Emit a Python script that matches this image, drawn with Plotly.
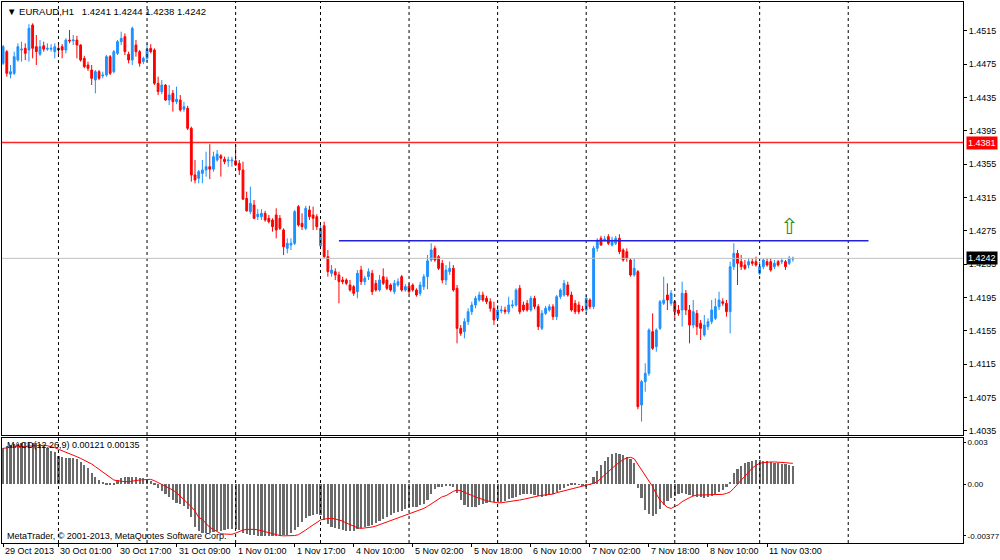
import plotly.graph_objects as go

# EURAUD H1, bar 0 = 29 Oct 2013, last bar = 11 Nov 2013
opens = [
    1.4476, 1.4490, 1.4463, 1.4464, 1.4480, 1.4492, 1.4494, 1.4492, 1.4522, 1.4496,
    1.4487, 1.4497, 1.4493, 1.4493, 1.4490, 1.4494, 1.4496, 1.4492, 1.4504, 1.4503,
    1.4504, 1.4498, 1.4482, 1.4474, 1.4468, 1.4456, 1.4466, 1.4461, 1.4462, 1.4484,
    1.4466, 1.4488, 1.4502, 1.4508, 1.4487, 1.4480, 1.4498, 1.4490, 1.4478, 1.4482,
    1.4494, 1.4492, 1.4452, 1.4442, 1.4450, 1.4432, 1.4440, 1.4430, 1.4432, 1.4421,
    1.4422, 1.4398, 1.4342, 1.4338, 1.4344, 1.4348, 1.4352, 1.4349, 1.4360, 1.4365,
    1.4361, 1.4359, 1.4359, 1.4359, 1.4356, 1.4348, 1.4314, 1.4298, 1.4306, 1.4292,
    1.4292, 1.4296, 1.4290, 1.4288, 1.4294, 1.4290, 1.4276, 1.4254, 1.4258, 1.4260,
    1.4304, 1.4284, 1.4278, 1.4300, 1.4294, 1.4292, 1.4257, 1.4281, 1.4244, 1.4224,
    1.4226, 1.4222, 1.4216, 1.4216, 1.4210, 1.4208, 1.4202, 1.4228, 1.4214, 1.4220,
    1.4224, 1.4212, 1.4204, 1.4220, 1.4216, 1.4210, 1.4202, 1.4210, 1.4220, 1.4204,
    1.4209, 1.4210, 1.4204, 1.4200, 1.4208, 1.4220, 1.4240, 1.4254, 1.4244, 1.4236,
    1.4216, 1.4226, 1.4230, 1.4206, 1.4158, 1.4154, 1.4166, 1.4178, 1.4186, 1.4192,
    1.4198, 1.4194, 1.4190, 1.4182, 1.4170, 1.4179, 1.4180, 1.4178, 1.4185, 1.4186,
    1.4206, 1.4186, 1.4188, 1.4180, 1.4194, 1.4184, 1.4158, 1.4176, 1.4180, 1.4184,
    1.4172, 1.4196, 1.4198, 1.4210, 1.4198, 1.4188, 1.4186, 1.4181, 1.4180, 1.4192,
    1.4184, 1.4254, 1.4266, 1.4264, 1.4268, 1.4258, 1.4260, 1.4266, 1.4252, 1.4250,
    1.4240, 1.4222, 1.4226, 1.4066, 1.4094, 1.4104, 1.4154, 1.4136, 1.4158, 1.4188,
    1.4198, 1.4188, 1.4190, 1.4180, 1.4180, 1.4200, 1.4180, 1.4162, 1.4176, 1.4164,
    1.4150, 1.4160, 1.4166, 1.4170, 1.4184, 1.4190, 1.4188, 1.4178, 1.4232, 1.4248,
    1.4238, 1.4234, 1.4234, 1.4238, 1.4238, 1.4224, 1.4232, 1.4238, 1.4238, 1.4232,
    1.4238, 1.4238, 1.4238, 1.4236, 1.4241,
]
highs = [
    1.4498, 1.4492, 1.4474, 1.4490, 1.4500, 1.4502, 1.4500, 1.4523, 1.4524, 1.4510,
    1.4504, 1.4502, 1.4500, 1.4499, 1.4500, 1.4498, 1.4499, 1.4506, 1.4516, 1.4510,
    1.4509, 1.4499, 1.4485, 1.4478, 1.4474, 1.4468, 1.4468, 1.4466, 1.4486, 1.4486,
    1.4492, 1.4504, 1.4514, 1.4512, 1.4490, 1.4520, 1.4504, 1.4492, 1.4484, 1.4500,
    1.4499, 1.4494, 1.4460, 1.4456, 1.4451, 1.4450, 1.4444, 1.4448, 1.4438, 1.4430,
    1.4425, 1.4400, 1.4360, 1.4348, 1.4360, 1.4370, 1.4379, 1.4370, 1.4372, 1.4367,
    1.4364, 1.4364, 1.4364, 1.4379, 1.4360, 1.4358, 1.4322, 1.4328, 1.4312, 1.4301,
    1.4301, 1.4299, 1.4294, 1.4290, 1.4302, 1.4294, 1.4278, 1.4266, 1.4266, 1.4300,
    1.4306, 1.4296, 1.4305, 1.4305, 1.4304, 1.4295, 1.4282, 1.4286, 1.4252, 1.4234,
    1.4230, 1.4226, 1.4220, 1.4218, 1.4216, 1.4210, 1.4228, 1.4233, 1.4221, 1.4230,
    1.4228, 1.4216, 1.4222, 1.4230, 1.4220, 1.4212, 1.4216, 1.4218, 1.4222, 1.4211,
    1.4212, 1.4212, 1.4206, 1.4214, 1.4223, 1.4246, 1.4260, 1.4257, 1.4246, 1.4240,
    1.4234, 1.4238, 1.4234, 1.4210, 1.4162, 1.4170, 1.4182, 1.4190, 1.4197, 1.4202,
    1.4202, 1.4197, 1.4194, 1.4190, 1.4186, 1.4185, 1.4184, 1.4196, 1.4192, 1.4206,
    1.4210, 1.4190, 1.4192, 1.4197, 1.4197, 1.4187, 1.4180, 1.4185, 1.4187, 1.4187,
    1.4198, 1.4206, 1.4216, 1.4214, 1.4202, 1.4192, 1.4190, 1.4185, 1.4198, 1.4194,
    1.4257, 1.4266, 1.4269, 1.4269, 1.4271, 1.4268, 1.4269, 1.4271, 1.4254, 1.4254,
    1.4242, 1.4242, 1.4228, 1.4096, 1.4116, 1.4158, 1.4176, 1.4158, 1.4192, 1.4220,
    1.4212, 1.4204, 1.4192, 1.4186, 1.4214, 1.4204, 1.4186, 1.4192, 1.4180, 1.4168,
    1.4174, 1.4170, 1.4192, 1.4194, 1.4202, 1.4194, 1.4192, 1.4238, 1.4260, 1.4252,
    1.4246, 1.4240, 1.4242, 1.4242, 1.4244, 1.4238, 1.4242, 1.4242, 1.4242, 1.4240,
    1.4240, 1.4242, 1.4240, 1.4245, 1.4244,
]
lows = [
    1.4474, 1.4460, 1.4458, 1.4462, 1.4478, 1.4478, 1.4480, 1.4478, 1.4482, 1.4474,
    1.4485, 1.4490, 1.4491, 1.4490, 1.4482, 1.4484, 1.4482, 1.4488, 1.4500, 1.4498,
    1.4482, 1.4478, 1.4470, 1.4467, 1.4450, 1.4440, 1.4456, 1.4458, 1.4460, 1.4462,
    1.4464, 1.4486, 1.4498, 1.4486, 1.4476, 1.4474, 1.4484, 1.4472, 1.4475, 1.4478,
    1.4488, 1.4450, 1.4438, 1.4439, 1.4431, 1.4426, 1.4418, 1.4427, 1.4418, 1.4418,
    1.4396, 1.4334, 1.4332, 1.4332, 1.4332, 1.4340, 1.4337, 1.4346, 1.4358, 1.4340,
    1.4355, 1.4352, 1.4352, 1.4353, 1.4342, 1.4312, 1.4298, 1.4295, 1.4289, 1.4288,
    1.4288, 1.4286, 1.4284, 1.4274, 1.4266, 1.4276, 1.4246, 1.4248, 1.4252, 1.4258,
    1.4280, 1.4276, 1.4276, 1.4288, 1.4276, 1.4276, 1.4253, 1.4242, 1.4220, 1.4220,
    1.4216, 1.4188, 1.4211, 1.4210, 1.4202, 1.4197, 1.4194, 1.4210, 1.4210, 1.4216,
    1.4198, 1.4202, 1.4202, 1.4210, 1.4204, 1.4202, 1.4199, 1.4208, 1.4202, 1.4202,
    1.4199, 1.4202, 1.4196, 1.4197, 1.4204, 1.4205, 1.4238, 1.4238, 1.4228, 1.4212,
    1.4210, 1.4222, 1.4202, 1.4140, 1.4149, 1.4146, 1.4162, 1.4174, 1.4182, 1.4190,
    1.4190, 1.4187, 1.4178, 1.4162, 1.4168, 1.4176, 1.4175, 1.4175, 1.4182, 1.4184,
    1.4175, 1.4178, 1.4178, 1.4178, 1.4181, 1.4156, 1.4156, 1.4174, 1.4178, 1.4168,
    1.4168, 1.4193, 1.4196, 1.4196, 1.4178, 1.4175, 1.4175, 1.4178, 1.4176, 1.4181,
    1.4181, 1.4250, 1.4257, 1.4262, 1.4258, 1.4256, 1.4258, 1.4247, 1.4238, 1.4238,
    1.4220, 1.4220, 1.4061, 1.4046, 1.4082, 1.4101, 1.4132, 1.4130, 1.4156, 1.4186,
    1.4180, 1.4185, 1.4170, 1.4173, 1.4160, 1.4174, 1.4140, 1.4158, 1.4150, 1.4144,
    1.4148, 1.4156, 1.4163, 1.4168, 1.4180, 1.4185, 1.4172, 1.4152, 1.4228, 1.4210,
    1.4228, 1.4228, 1.4230, 1.4233, 1.4232, 1.4222, 1.4229, 1.4232, 1.4226, 1.4229,
    1.4232, 1.4235, 1.4228, 1.4234, 1.4238,
]
closes = [
    1.4496, 1.4464, 1.4466, 1.4484, 1.4496, 1.4493, 1.4488, 1.4518, 1.4494, 1.4490,
    1.4496, 1.4493, 1.4494, 1.4494, 1.4496, 1.4492, 1.4492, 1.4504, 1.4503, 1.4504,
    1.4498, 1.4480, 1.4472, 1.4470, 1.4458, 1.4466, 1.4458, 1.4462, 1.4484, 1.4464,
    1.4490, 1.4502, 1.4506, 1.4490, 1.4480, 1.4518, 1.4490, 1.4476, 1.4482, 1.4493,
    1.4490, 1.4452, 1.4442, 1.4450, 1.4432, 1.4438, 1.4430, 1.4433, 1.4420, 1.4424,
    1.4398, 1.4342, 1.4336, 1.4346, 1.4348, 1.4352, 1.4349, 1.4364, 1.4367, 1.4362,
    1.4358, 1.4360, 1.4360, 1.4354, 1.4348, 1.4313, 1.4299, 1.4308, 1.4290, 1.4295,
    1.4296, 1.4288, 1.4286, 1.4280, 1.4276, 1.4278, 1.4256, 1.4260, 1.4260, 1.4298,
    1.4282, 1.4280, 1.4302, 1.4292, 1.4290, 1.4280, 1.4278, 1.4244, 1.4226, 1.4228,
    1.4222, 1.4214, 1.4214, 1.4212, 1.4204, 1.4200, 1.4224, 1.4214, 1.4218, 1.4226,
    1.4202, 1.4204, 1.4216, 1.4212, 1.4206, 1.4204, 1.4212, 1.4214, 1.4204, 1.4208,
    1.4202, 1.4204, 1.4198, 1.4210, 1.4220, 1.4239, 1.4252, 1.4240, 1.4230, 1.4216,
    1.4228, 1.4230, 1.4204, 1.4158, 1.4152, 1.4166, 1.4178, 1.4186, 1.4194, 1.4198,
    1.4192, 1.4190, 1.4182, 1.4168, 1.4180, 1.4180, 1.4178, 1.4186, 1.4186, 1.4204,
    1.4178, 1.4180, 1.4180, 1.4194, 1.4184, 1.4160, 1.4176, 1.4182, 1.4184, 1.4172,
    1.4196, 1.4204, 1.4212, 1.4198, 1.4180, 1.4178, 1.4178, 1.4180, 1.4194, 1.4184,
    1.4254, 1.4264, 1.4258, 1.4265, 1.4260, 1.4264, 1.4266, 1.4250, 1.4240, 1.4242,
    1.4222, 1.4230, 1.4064, 1.4094, 1.4104, 1.4156, 1.4134, 1.4156, 1.4190, 1.4192,
    1.4192, 1.4200, 1.4178, 1.4176, 1.4200, 1.4180, 1.4162, 1.4178, 1.4160, 1.4158,
    1.4162, 1.4166, 1.4180, 1.4184, 1.4192, 1.4188, 1.4178, 1.4232, 1.4248, 1.4236,
    1.4232, 1.4230, 1.4238, 1.4236, 1.4234, 1.4232, 1.4240, 1.4234, 1.4228, 1.4236,
    1.4234, 1.4239, 1.4232, 1.4242, 1.4242,
]

# MACD(12,26,9): main line (histogram) and signal line
macd_main = [
    0.00262, 0.00275, 0.00283, 0.00288, 0.00292, 0.00295, 0.00297, 0.00300, 0.00299, 0.00296,
    0.00290, 0.00276, 0.00262, 0.00242, 0.00232, 0.00203, 0.00194, 0.00186, 0.00186, 0.00186,
    0.00179, 0.00162, 0.00138, 0.00114, 0.00082, 0.00048, 0.00029, 0.00017, 0.00010, 0.00005,
    0.00010, 0.00029, 0.00041, 0.00048, 0.00048, 0.00053, 0.00048, 0.00046, 0.00041, 0.00034,
    0.00022, 0.00005, -0.00031, -0.00051, -0.00073, -0.00092, -0.00116, -0.00136, -0.00145, -0.00160,
    -0.00184, -0.00242, -0.00310, -0.00339, -0.00353, -0.00358, -0.00353, -0.00348, -0.00344, -0.00339,
    -0.00334, -0.00329, -0.00324, -0.00324, -0.00334, -0.00353, -0.00363, -0.00368, -0.00372, -0.00376,
    -0.00377, -0.00377, -0.00376, -0.00376, -0.00375, -0.00374, -0.00372, -0.00370, -0.00358, -0.00334,
    -0.00310, -0.00273, -0.00249, -0.00232, -0.00225, -0.00218, -0.00225, -0.00261, -0.00290, -0.00310,
    -0.00322, -0.00329, -0.00334, -0.00339, -0.00341, -0.00339, -0.00329, -0.00322, -0.00315, -0.00305,
    -0.00295, -0.00281, -0.00266, -0.00252, -0.00237, -0.00223, -0.00213, -0.00203, -0.00194, -0.00184,
    -0.00177, -0.00169, -0.00165, -0.00155, -0.00145, -0.00116, -0.00073, -0.00039, -0.00024, -0.00019,
    -0.00015, -0.00015, -0.00024, -0.00068, -0.00116, -0.00152, -0.00165, -0.00169, -0.00165, -0.00155,
    -0.00145, -0.00136, -0.00131, -0.00128, -0.00131, -0.00128, -0.00121, -0.00111, -0.00104, -0.00092,
    -0.00082, -0.00075, -0.00073, -0.00073, -0.00077, -0.00087, -0.00092, -0.00087, -0.00082, -0.00073,
    -0.00058, -0.00044, -0.00029, -0.00010, 0.00010, 0.00005, -0.00005, -0.00010, -0.00019, -0.00007,
    0.00048, 0.00097, 0.00138, 0.00169, 0.00198, 0.00215, 0.00223, 0.00218, 0.00208, 0.00194,
    0.00179, 0.00150, -0.00031, -0.00104, -0.00189, -0.00218, -0.00232, -0.00218, -0.00184, -0.00152,
    -0.00121, -0.00104, -0.00087, -0.00073, -0.00068, -0.00073, -0.00080, -0.00085, -0.00092, -0.00097,
    -0.00102, -0.00097, -0.00087, -0.00073, -0.00058, -0.00044, -0.00024, 0.00017, 0.00077, 0.00106,
    0.00131, 0.00150, 0.00160, 0.00167, 0.00172, 0.00174, 0.00169, 0.00165, 0.00160, 0.00155,
    0.00150, 0.00148, 0.00145, 0.00140, 0.00128,
]
macd_signal = [
    0.00259, 0.00264, 0.00266, 0.00269, 0.00271, 0.00273, 0.00273, 0.00276, 0.00276, 0.00278,
    0.00283, 0.00281, 0.00278, 0.00273, 0.00264, 0.00252, 0.00242, 0.00232, 0.00223, 0.00211,
    0.00198, 0.00186, 0.00174, 0.00160, 0.00145, 0.00126, 0.00106, 0.00087, 0.00068, 0.00051,
    0.00029, 0.00024, 0.00019, 0.00017, 0.00017, 0.00022, 0.00024, 0.00029, 0.00031, 0.00034,
    0.00034, 0.00024, 0.00010, 0.00000, -0.00015, -0.00029, -0.00044, -0.00063, -0.00087, -0.00111,
    -0.00136, -0.00165, -0.00196, -0.00242, -0.00257, -0.00286, -0.00315, -0.00329, -0.00346, -0.00361,
    -0.00363, -0.00365, -0.00365, -0.00356, -0.00344, -0.00334, -0.00329, -0.00327, -0.00329, -0.00332,
    -0.00339, -0.00348, -0.00358, -0.00365, -0.00370, -0.00374, -0.00376, -0.00377, -0.00377, -0.00374,
    -0.00368, -0.00353, -0.00334, -0.00315, -0.00295, -0.00276, -0.00261, -0.00254, -0.00249, -0.00249,
    -0.00254, -0.00259, -0.00269, -0.00283, -0.00295, -0.00307, -0.00317, -0.00322, -0.00320, -0.00317,
    -0.00312, -0.00305, -0.00295, -0.00286, -0.00276, -0.00266, -0.00257, -0.00247, -0.00237, -0.00228,
    -0.00218, -0.00206, -0.00196, -0.00186, -0.00177, -0.00162, -0.00145, -0.00128, -0.00111, -0.00092,
    -0.00085, -0.00068, -0.00053, -0.00044, -0.00048, -0.00061, -0.00070, -0.00082, -0.00094, -0.00104,
    -0.00111, -0.00121, -0.00128, -0.00133, -0.00136, -0.00136, -0.00133, -0.00128, -0.00123, -0.00119,
    -0.00116, -0.00111, -0.00104, -0.00097, -0.00092, -0.00087, -0.00082, -0.00080, -0.00075, -0.00073,
    -0.00063, -0.00056, -0.00048, -0.00044, -0.00036, -0.00029, -0.00022, -0.00015, -0.00010, -0.00002,
    0.00005, 0.00017, 0.00041, 0.00065, 0.00090, 0.00119, 0.00138, 0.00157, 0.00177, 0.00189,
    0.00194, 0.00184, 0.00143, 0.00106, 0.00065, 0.00024, -0.00019, -0.00073, -0.00116, -0.00145,
    -0.00169, -0.00177, -0.00165, -0.00150, -0.00128, -0.00111, -0.00099, -0.00087, -0.00080, -0.00080,
    -0.00080, -0.00080, -0.00080, -0.00080, -0.00077, -0.00075, -0.00068, -0.00058, -0.00031, 0.00000,
    0.00029, 0.00058, 0.00092, 0.00116, 0.00136, 0.00150, 0.00155, 0.00160, 0.00160, 0.00160,
    0.00160, 0.00157, 0.00155, 0.00152, 0.00150,
]

bars = list(range(len(closes)))

# time axis: label every 16 bars, dashed separators at each trading day start
time_label_bars = [0, 15, 31, 47, 63, 79, 95, 111, 127, 143, 159, 175, 191, 207]
time_labels = ["29 Oct 2013", "30 Oct 01:00", "30 Oct 17:00", "31 Oct 09:00",
               "1 Nov 01:00", "1 Nov 17:00", "4 Nov 10:00", "5 Nov 02:00",
               "5 Nov 18:00", "6 Nov 10:00", "7 Nov 02:00", "7 Nov 18:00",
               "8 Nov 10:00", "11 Nov 03:00"]
day_start_bars = [15, 39, 63, 86, 110, 134, 158, 182, 205, 229]

price_ticks = [1.4515, 1.4475, 1.4435, 1.4395, 1.4355, 1.4315, 1.4275,
               1.4235, 1.4195, 1.4155, 1.4115, 1.4075, 1.4035]
macd_ticks = [0.003, 0.0, -0.00377]
macd_tick_text = ["0.003", "0.00", "-0.00377"]

resistance_level = 1.4381
trend_level = 1.4263
trend_from, trend_to = 91, 234.5
bid_price = 1.4242
arrow_bar, arrow_price = 213, 1.4280

FONT = "Liberation Sans, Arial, sans-serif"

fig = go.Figure()

fig.add_trace(go.Candlestick(
    x=bars, open=opens, high=highs, low=lows, close=closes,
    increasing=dict(line=dict(color="#1E90FF", width=1), fillcolor="#1E90FF"),
    decreasing=dict(line=dict(color="#FF0000", width=1), fillcolor="#FF0000"),
    whiskerwidth=0, xaxis="x", yaxis="y", hoverinfo="skip", showlegend=False))

fig.add_trace(go.Bar(
    x=bars, y=macd_main, width=0.6, marker=dict(color="#6A6A6A", line=dict(width=0)),
    xaxis="x2", yaxis="y2", hoverinfo="skip", showlegend=False))

fig.add_trace(go.Scatter(
    x=bars, y=macd_signal, mode="lines", line=dict(color="#FF0000", width=1),
    xaxis="x2", yaxis="y2", hoverinfo="skip", showlegend=False))

shapes = []
for d in day_start_bars:
    for yref in ("y domain", "y2 domain"):
        shapes.append(dict(type="line", xref="x", yref=yref, x0=d, x1=d, y0=0, y1=1,
                           line=dict(color="#000000", width=1, dash="3px,3px")))
shapes.append(dict(type="line", xref="x domain", yref="y", x0=0, x1=1,
                   y0=resistance_level, y1=resistance_level,
                   line=dict(color="rgba(255,0,0,0.85)", width=1.3)))
shapes.append(dict(type="line", xref="x domain", yref="y", x0=0, x1=1,
                   y0=bid_price, y1=bid_price, line=dict(color="#C0C0C0", width=1)))
shapes.append(dict(type="line", xref="x", yref="y", x0=trend_from, x1=trend_to,
                   y0=trend_level, y1=trend_level, line=dict(color="#2222DD", width=1.5)))

ann = []
ann.append(dict(text="\u25bc EURAUD,H1\u00a0\u00a0 1.4241 1.4244 1.4238 1.4242",
                xref="paper", yref="paper", x=0, y=1, xanchor="left", yanchor="top",
                xshift=3, yshift=-2, showarrow=False, font=dict(size=9.5, color="black")))
ann.append(dict(text="MACD(12,26,9) 0.00121 0.00135", xref="paper", yref="y2 domain",
                x=0, y=1, xanchor="left", yanchor="top", xshift=3, yshift=0,
                showarrow=False, font=dict(size=9, color="black")))
ann.append(dict(text="MetaTrader, \u00a9 2001-2013, MetaQuotes Software Corp.",
                xref="paper", yref="y2 domain", x=0, y=0, xanchor="left", yanchor="bottom",
                xshift=3, yshift=0, showarrow=False, font=dict(size=9, color="black")))
for b, t in zip(time_label_bars, time_labels):
    ann.append(dict(text=t, xref="x2", yref="paper", x=b, y=0, xanchor="left",
                    yanchor="top", xshift=0, yshift=-1, showarrow=False,
                    font=dict(size=9, color="black")))
ann.append(dict(text="1.4381", xref="paper", yref="y", x=1, y=resistance_level,
                xanchor="left", yanchor="middle", xshift=3, showarrow=False,
                bgcolor="#FF0000", borderpad=1, font=dict(size=9, color="white")))
ann.append(dict(text="1.4242", xref="paper", yref="y", x=1, y=bid_price,
                xanchor="left", yanchor="middle", xshift=3, showarrow=False,
                bgcolor="#000000", borderpad=1, font=dict(size=9, color="white")))
ann.append(dict(text="\u21e7", xref="x", yref="y", x=arrow_bar, y=arrow_price,
                showarrow=False, font=dict(size=22, color="#2E8B2E", family="DejaVu Sans")))

x_range = [-0.3, 260.1]
axis_common = dict(showline=True, mirror=True, linecolor="#000000", linewidth=1,
                   showgrid=False, zeroline=False, automargin=False)

fig.update_layout(
    width=1000, height=560,
    margin=dict(l=2, r=37, t=2, b=17, autoexpand=False),
    paper_bgcolor="white", plot_bgcolor="white",
    font=dict(family=FONT, size=9, color="black"),
    bargap=0,
    shapes=shapes, annotations=ann,
    xaxis=dict(range=x_range, anchor="y", showticklabels=False, ticks="",
               rangeslider=dict(visible=False), **axis_common),
    xaxis2=dict(range=x_range, anchor="y2", matches="x", tickvals=time_label_bars,
                ticks="outside", ticklen=3, tickcolor="#000000",
                showticklabels=False, **axis_common),
    yaxis=dict(domain=[0.1996, 1.0], range=[1.4030, 1.45496], side="right",
               tickvals=price_ticks, ticktext=["%.4f" % p for p in price_ticks],
               ticks="outside", ticklen=3, tickcolor="#000000",
               tickfont=dict(size=9), **axis_common),
    yaxis2=dict(domain=[0.0, 0.1941], range=[-0.00428, 0.00334], side="right",
                tickvals=macd_ticks, ticktext=macd_tick_text,
                ticks="outside", ticklen=2, tickcolor="#000000",
                tickfont=dict(size=8), **axis_common),
)

# the page body has a default margin; drop it so the chart fills the window
fig.write_html("out.html", config={"displayModeBar": False},
               post_script="document.body.style.margin='0';document.body.style.overflow='hidden';")
